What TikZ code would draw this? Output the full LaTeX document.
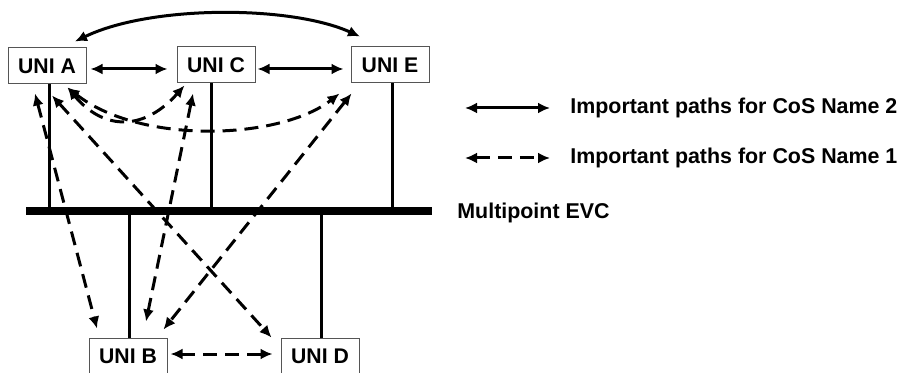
\documentclass[tikz,border=0pt]{standalone}
\usepackage{fontspec}
\setmainfont{Liberation Sans}
\usetikzlibrary{arrows.meta,calc}
\definecolor{boxgray}{HTML}{555555}

\begin{document}
\begin{tikzpicture}[x=0.5pt,y=-0.5pt,
  uni/.style={draw=boxgray,line width=0.5pt,minimum width=39pt,minimum height=18pt,inner sep=0pt,font=\fontsize{10.6}{12}\selectfont\bfseries},
  label/.style={anchor=west,inner sep=0pt,font=\fontsize{10.7}{12}\selectfont\bfseries},
  cos2/.style={line width=1.5pt,{Latex[length=6pt,width=5.5pt]}-{Latex[length=6pt,width=5.5pt]}},
  cos1/.style={cos2,dash pattern=on 7pt off 4pt},
  drop/.style={line width=1.5pt},
  bus/.style={line width=4pt}]
\useasboundingbox (0,0) rectangle (897,373);
\node[uni] (A) at (47,66) {UNI A};
\node[uni] (C) at (216,65) {UNI C};
\node[uni] (E) at (390,65) {UNI E};
\node[uni] (B) at (128,356) {UNI B};
\node[uni] (D) at (320,356) {UNI D};
\coordinate (busL) at (26,211);
\coordinate (busR) at (432,211);
\draw[bus] (busL) -- (busR);
\path ($(A.south)+(2,0)$) coordinate (dA)
      ($(C.south)+(-5,0)$) coordinate (dC)
      ($(E.south)+(2,0)$) coordinate (dE)
      ($(B.north)+(1,0)$) coordinate (dB)
      ($(D.north)+(1,0)$) coordinate (dD);
\foreach \d in {dA,dC,dE,dB,dD} \draw[drop] (\d) -- (\d |- busL);
% CoS Name 2
\draw[cos2] ($(A.east)+(4,3)$) -- ($(C.west)+(-9,4)$);
\draw[cos2] ($(C.east)+(2,4)$) -- ($(E.west)+(-7,4)$);
\draw[cos2] ($(A.north)+(28,-6)$) .. controls (150,5) and (290,5) .. ($(E.north)+(-30,-10)$);
% CoS Name 1
\draw[cos1] ($(A.south)+(-12,9)$) -- ($(B.north)+(-31,-9)$);
\draw[cos1] ($(A.south)+(5,11)$) -- ($(D.north west)+(-9,0)$);
\draw[cos1] ($(C.south)+(-23,10)$) -- ($(B.north)+(18,-16)$);
\draw[cos1] ($(E.south west)+(1,10)$) -- ($(B.north east)+(-4,-8)$);
\draw[cos1] ($(B.east)+(3,-2)$) -- ($(D.west)+(-8,-2)$);
\draw[cos1] ($(A.south east)+(-19,3)$) .. controls (105,132) and (145,130) .. ($(C.south west)+(8,2)$);
\draw[cos1] ($(A.south east)+(-19,3)$) .. controls (140,145) and (280,140) .. ($(E.south west)+(-11,10)$);
% legend
\coordinate (k2a) at (465,108);
\coordinate (k2b) at (550,108);
\coordinate (k1a) at (465,158);
\coordinate (k1b) at (550,158);
\draw[cos2] (k2a) -- (k2b);
\draw[cos1] (k1a) -- (k1b);
\node[label] (k2) at (570,108) {Important paths for CoS Name 2};
\node[label] (k1) at (570,158) {Important paths for CoS Name 1};
\node[label] (evc) at (457,213) {Multipoint EVC};
\end{tikzpicture}
\end{document}
